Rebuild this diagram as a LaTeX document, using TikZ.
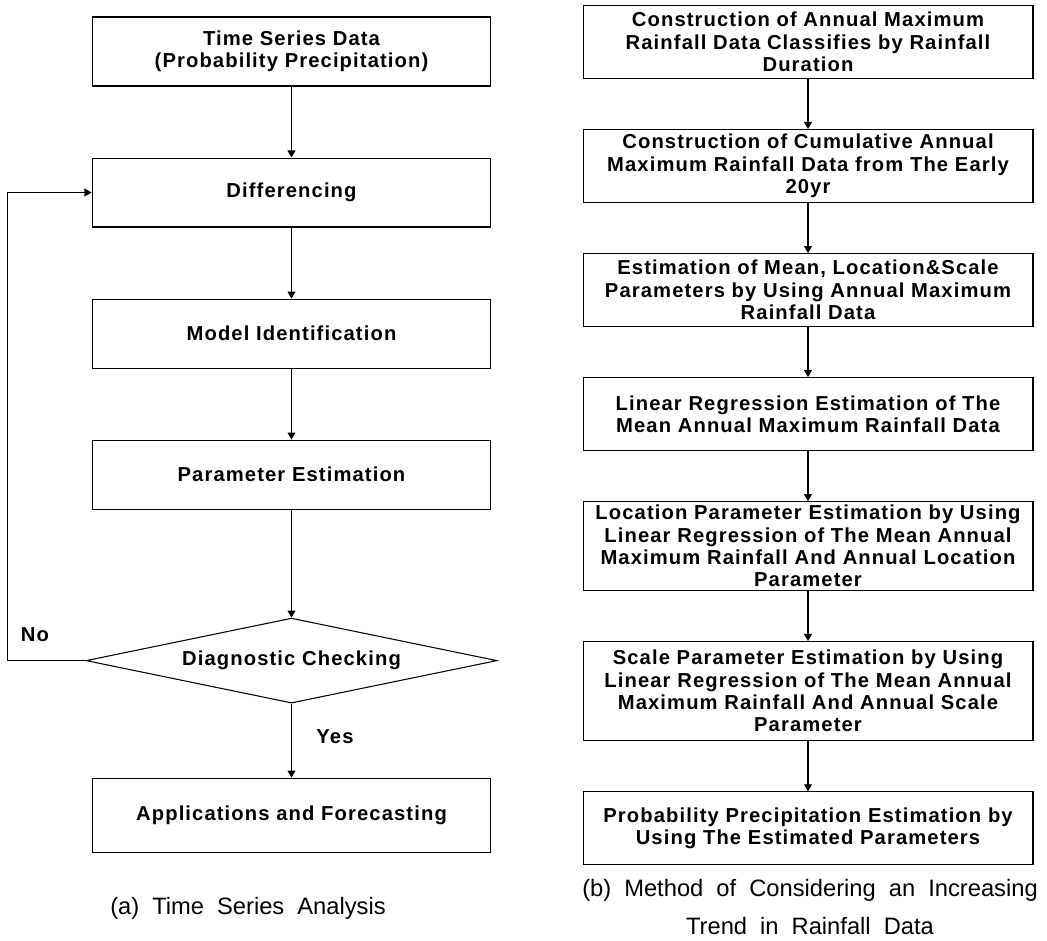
\documentclass[tikz,border=0pt]{standalone}
\usepackage{fontspec}
\setmainfont{Liberation Sans}
\usetikzlibrary{arrows.meta,shapes,positioning}
\newcommand\capfont{\fontsize{13.5}{22}\selectfont\spaceskip=0.55em\relax}
\newcommand\boxfont{\fontsize{11.5}{12.7}\selectfont\bfseries\addfontfeatures{LetterSpace=5.5}}

\begin{document}
\begin{tikzpicture}[
    x=0.02cm, y=-0.02cm,
    node distance=1cm,
    box/.style={rectangle, draw, line width=0.6pt, minimum width=7.98cm, minimum height=1.38cm, align=center, font=\boxfont},
    stepbox/.style={rectangle, draw, line width=0.6pt, minimum width=9cm, inner ysep=2pt, minimum height=1.46cm, align=center, font=\boxfont},
    check/.style={diamond, draw, line width=0.6pt, aspect=4.84, minimum width=8.22cm, minimum height=1.7cm, inner sep=0pt, font=\boxfont},
    arrow/.style={-{Triangle[length=4pt,width=4.5pt]}, line width=0.6pt},
    lbl/.style={font=\boxfont},
    caption/.style={align=center, font=\capfont}
]
    \useasboundingbox (0,0) rectangle (1047,940);

    % (a) time series analysis
    \node[box] (data) at (291.5,51.5) {Time Series Data\\(Probability Precipitation)};
    \node[box, below=1.42cm of data] (diff) {Differencing};
    \node[box, below=1.42cm of diff] (model) {Model Identification};
    \node[box, below=1.42cm of model] (param) {Parameter Estimation};
    \node[check, below=2.16cm of param] (diag) {Diagnostic Checking};
    \node[box, below=1.48cm of diag, minimum height=1.48cm] (apps) {Applications and Forecasting};

    \node[lbl] (no) at (35,635) {No};
    \node[lbl] (yes) at (335,737) {Yes};
    \node[caption] (capa) at (248,908) {(a) Time Series Analysis};

    \draw[arrow] (data) -- (diff);
    \draw[arrow] (diff) -- (model);
    \draw[arrow] (model) -- (param);
    \draw[arrow] (param) -- (diag);
    \draw[arrow] (diag) -- (apps);
    \draw[arrow] (diag.west) -- ++(-78,0) |- (diff.west);

    % (b) increasing trend method
    \node[stepbox] (s1) at (808,42) {Construction of Annual Maximum\\Rainfall Data Classifies by Rainfall\\Duration};
    \node[stepbox, below=of s1] (s2) {Construction of Cumulative Annual\\Maximum Rainfall Data from The Early\\20yr};
    \node[stepbox, below=of s2] (s3) {Estimation of Mean, Location\&Scale\\Parameters by Using Annual Maximum\\Rainfall Data};
    \node[stepbox, below=of s3] (s4) {Linear Regression Estimation of The\\Mean Annual Maximum Rainfall Data};
    \node[stepbox, below=of s4] (s5) {Location Parameter Estimation by Using\\Linear Regression of The Mean Annual\\Maximum Rainfall And Annual Location\\Parameter};
    \node[stepbox, below=of s5, inner ysep=5pt] (s6) {Scale Parameter Estimation by Using\\Linear Regression of The Mean Annual\\Maximum Rainfall And Annual Scale\\Parameter};
    \node[stepbox, below=of s6] (s7) {Probability Precipitation Estimation by\\Using The Estimated Parameters};

    \node[caption] (capb) at (810,907) {(b) Method of Considering an Increasing\\Trend in Rainfall Data};

    \foreach \a/\b in {s1/s2, s2/s3, s3/s4, s4/s5, s5/s6, s6/s7}
        \draw[arrow] (\a) -- (\b);
\end{tikzpicture}
\end{document}
